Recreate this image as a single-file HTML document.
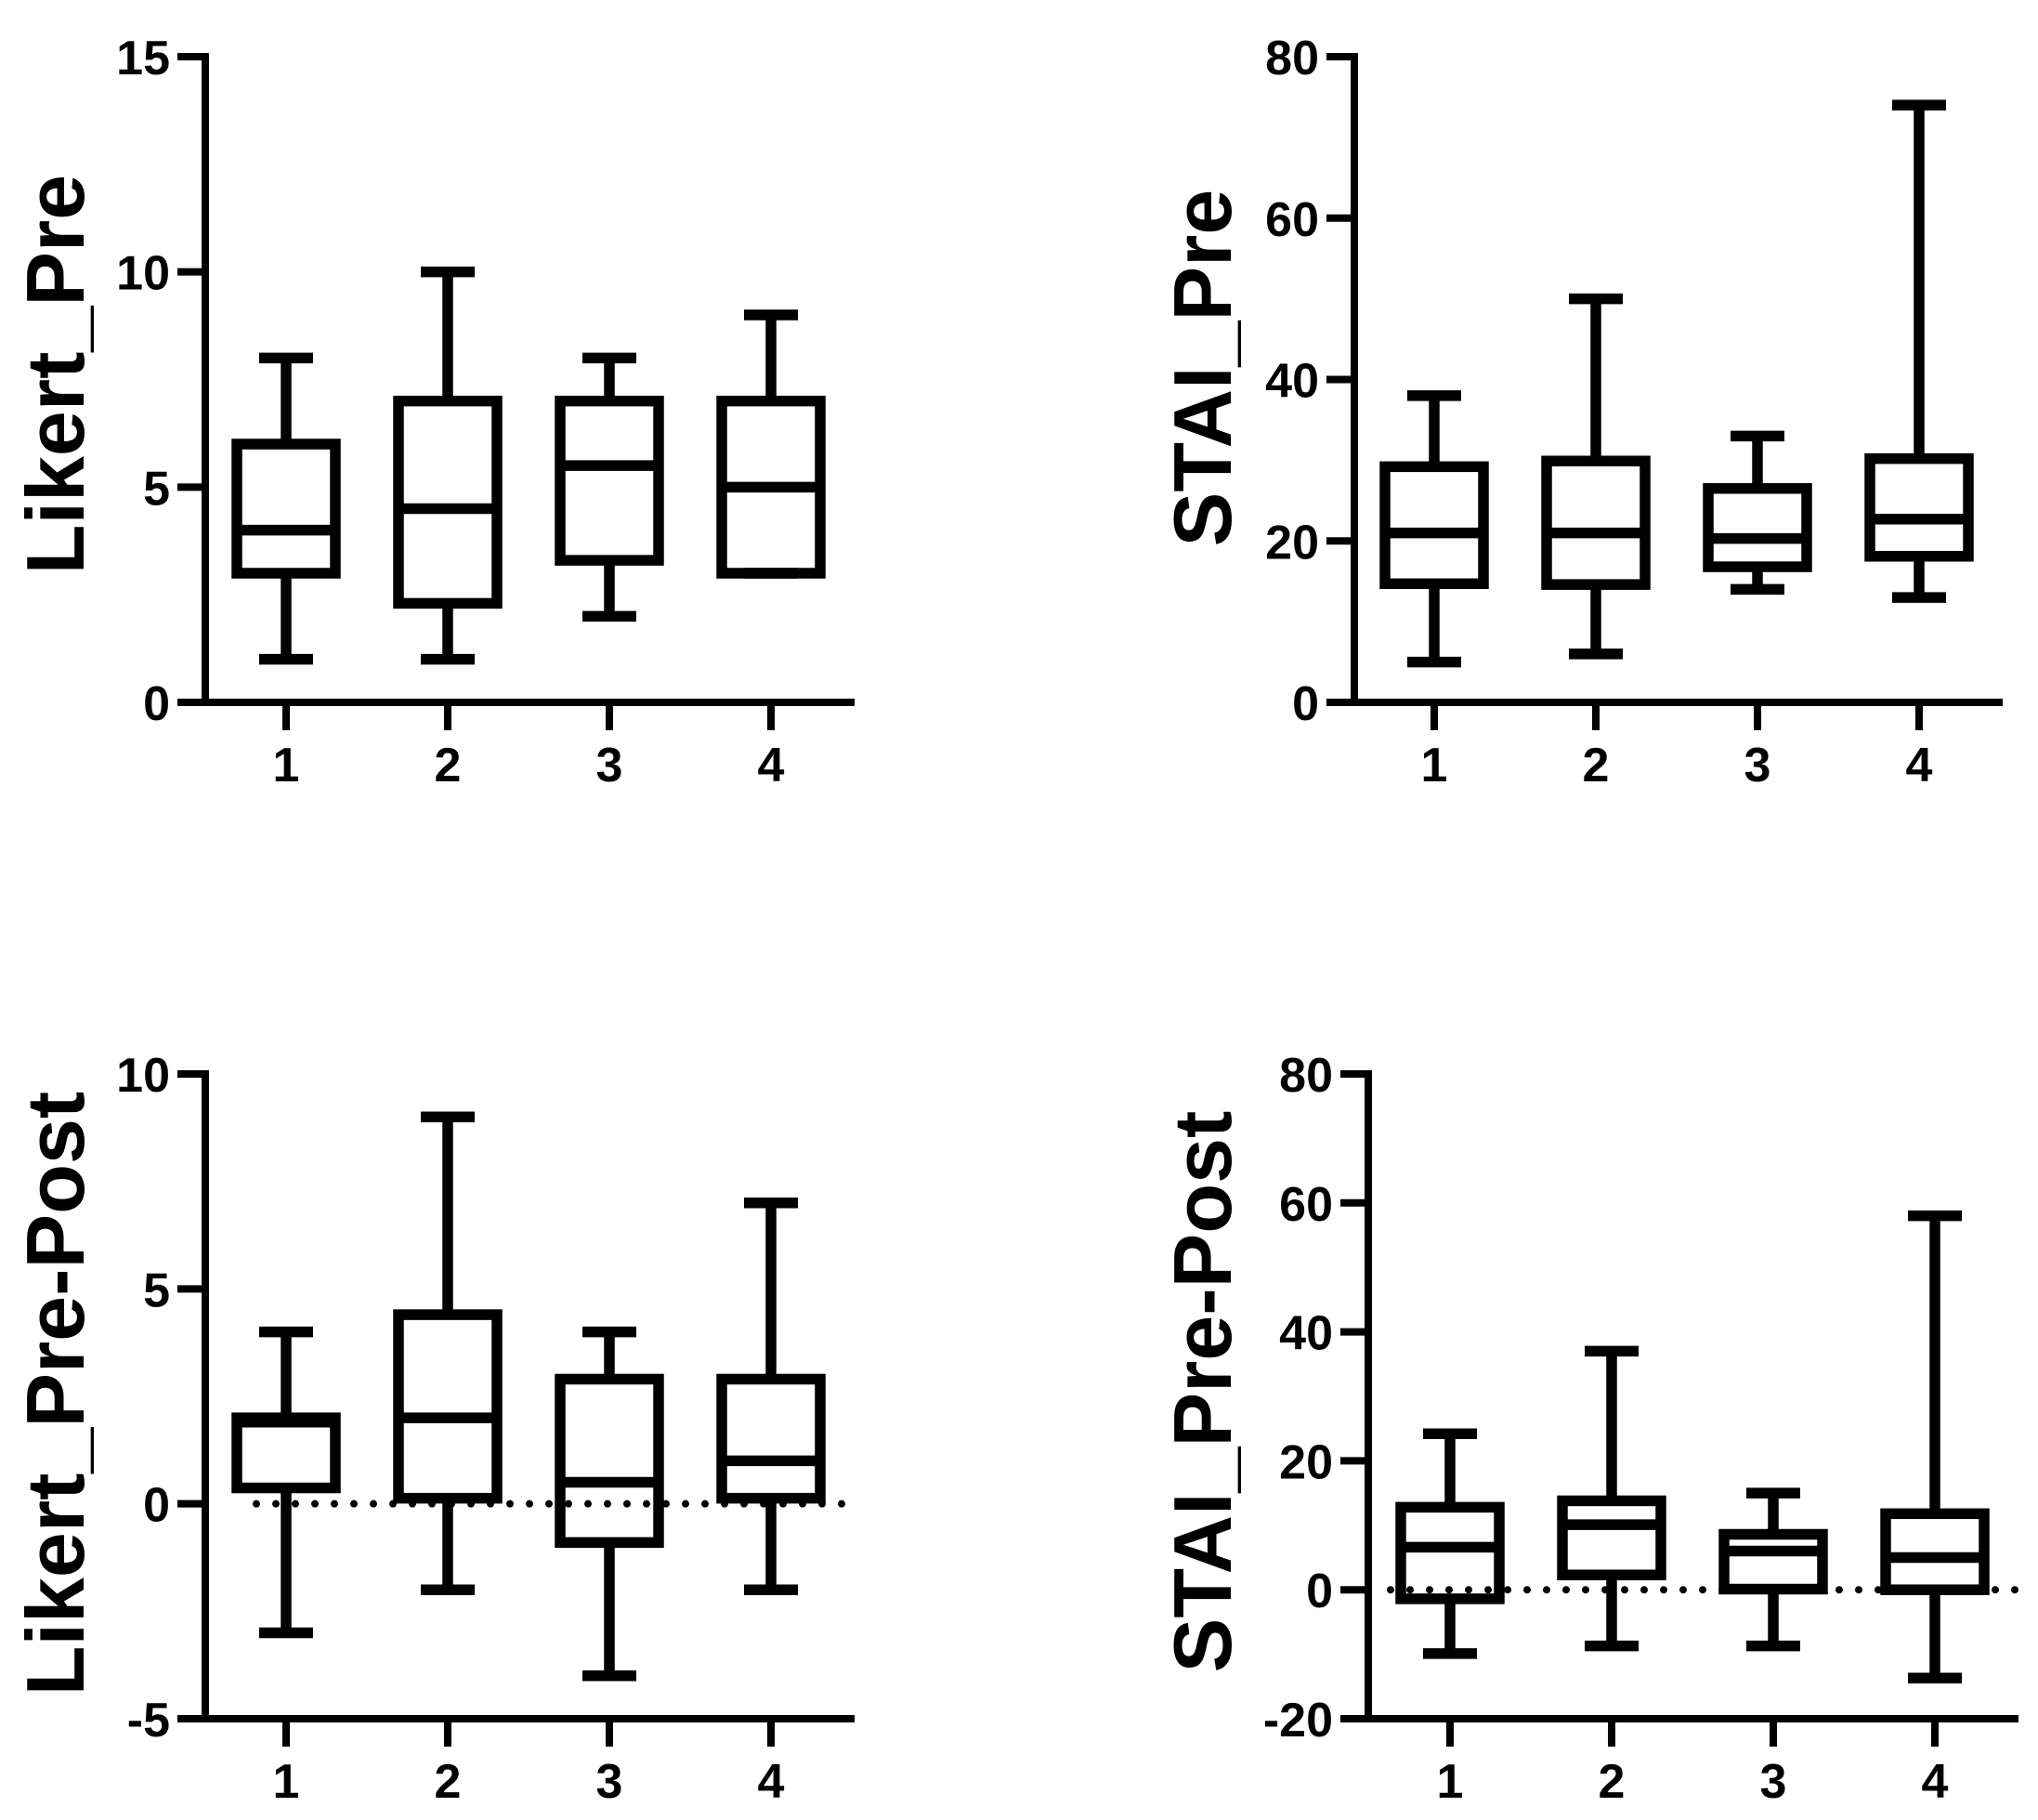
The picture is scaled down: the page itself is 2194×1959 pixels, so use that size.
<!DOCTYPE html>
<html><head><meta charset="utf-8"><style>
html,body{margin:0;padding:0;background:#fff;}
svg{display:block;}
text{font-family:"Liberation Sans",Arial,sans-serif;font-weight:bold;fill:#000;}
</style></head><body>
<svg id="chart" width="2194" height="1959" viewBox="0 0 2194 1959" xmlns="http://www.w3.org/2000/svg"></svg>
<script>
const categories = ["1","2","3","4"];
// panel 1: Likert_Pre
const p1Max = [8, 10, 8, 9];
const p1Q3 = [6, 7, 7, 7];
const p1Med = [4, 4.5, 5.5, 5];
const p1Q1 = [3, 2.3, 3.3, 3];
const p1Min = [1, 1, 2, 3];
const p1Ticks = [0, 5, 10, 15];
// panel 2: STAI_Pre
const p2Max = [38, 50, 33, 74];
const p2Q3 = [29.2, 29.9, 26.5, 30.2];
const p2Med = [21, 21, 20.3, 22.7];
const p2Q1 = [14.7, 14.6, 16.8, 18.1];
const p2Min = [5, 6, 14, 13];
const p2Ticks = [0, 20, 40, 60, 80];
// panel 3: Likert_Pre-Post
const p3Max = [4, 9, 4, 7];
const p3Q3 = [2, 4.4, 2.9, 2.9];
const p3Med = [1.9, 2, 0.5, 1];
const p3Q1 = [0.37, 0.13, -0.9, 0.13];
const p3Min = [-3, -2, -4, -2];
const p3Ticks = [-5, 0, 5, 10];
// panel 4: STAI_Pre-Post
const p4Max = [24.2, 37, 15, 58];
const p4Q3 = [12.8, 13.8, 8.6, 11.8];
const p4Med = [6.6, 10.1, 6.0, 5.0];
const p4Q1 = [-1.4, 2.3, 0.1, 0];
const p4Min = [-9.9, -8.7, -8.7, -13.7];
const p4Ticks = [-20, 0, 20, 40, 60, 80];

const NS = "http://www.w3.org/2000/svg";
const svg = document.getElementById("chart");
function mk(tag, attrs, parent){
  const e = document.createElementNS(NS, tag);
  for (const k in attrs) e.setAttribute(k, attrs[k]);
  (parent||svg).appendChild(e);
  return e;
}
function panel(cfg){
  const g = mk("g", {});
  
  
  const vmin = cfg.ticks[0], vmax = cfg.ticks[cfg.ticks.length-1];
  const y = v => cfg.yBot - (v - vmin) / (vmax - vmin) * (cfg.yBot - cfg.yTop);
  const x = i => cfg.axisX + cfg.off + i * 174;
  const xEnd = x(categories.length-1) + 90;
  // zero dotted line
  if (cfg.zeroLine){
    const zl = mk("line", {x1:cfg.dotFrom, x2:cfg.dotTo, y1:y(0), y2:y(0), stroke:"#000","stroke-width":8,"stroke-dasharray":"0 21","stroke-linecap":"round"}, g);
    
    
  }
  // y axis
  const ya = mk("line", {x1:cfg.axisX, x2:cfg.axisX, y1:cfg.yTop-4, y2:cfg.yBot+4, stroke:"#000","stroke-width":8}, g);
  
  
  const xa = mk("line", {x1:cfg.axisX-30, x2:xEnd, y1:cfg.yBot, y2:cfg.yBot, stroke:"#000","stroke-width":8}, g);
  
  
  cfg.ticks.forEach(t => {
    const tl = mk("line", {x1:cfg.axisX-30, x2:cfg.axisX, y1:y(t), y2:y(t), stroke:"#000","stroke-width":8}, g);
    
    
    const tx = mk("text", {x:cfg.axisX-38, y:y(t)+19, "font-size":52, "text-anchor":"end"}, g);
    tx.textContent = String(t);
    
    
  });
  categories.forEach((c, i) => {
    const tl = mk("line", {x1:x(i), x2:x(i), y1:cfg.yBot, y2:cfg.yBot+30, stroke:"#000","stroke-width":8}, g);
    
    
    const tx = mk("text", {x:x(i), y:cfg.yBot+85, "font-size":52, "text-anchor":"middle"}, g);
    tx.textContent = c;
    
    
    const bg = mk("g", {stroke:"#000","stroke-width":11.5, fill:"none"}, g);
    
    
    const hw = 53, cw = 29;
    const wu = mk("line", {x1:x(i), x2:x(i), y1:y(cfg.q3[i]), y2:y(cfg.max[i])}, bg);
    
    
    const cu = mk("line", {x1:x(i)-cw, x2:x(i)+cw, y1:y(cfg.max[i]), y2:y(cfg.max[i])}, bg);
    
    
    const wl = mk("line", {x1:x(i), x2:x(i), y1:y(cfg.q1[i]), y2:y(cfg.min[i])}, bg);
    
    
    const cl = mk("line", {x1:x(i)-cw, x2:x(i)+cw, y1:y(cfg.min[i]), y2:y(cfg.min[i])}, bg);
    
    
    const r = mk("rect", {x:x(i)-hw, y:y(cfg.q3[i]), width:2*hw, height:y(cfg.q1[i])-y(cfg.q3[i]), fill:"none"}, bg);
    
    
    const m = mk("line", {x1:x(i)-hw, x2:x(i)+hw, y1:y(cfg.med[i]), y2:y(cfg.med[i])}, bg);
    
    
  });
  const tt = mk("text", {x:0, y:0, "font-size":88, "text-anchor":"middle", transform:"translate("+(cfg.titleX)+","+(cfg.titleY)+") rotate(-90)"}, g);
  tt.textContent = cfg.title;
  
  
}
panel({name:"likert-pre-panel", title:"Likert_Pre", axisX:221, off:87, yTop:61, yBot:756, ticks:p1Ticks,
  max:p1Max,q3:p1Q3,med:p1Med,q1:p1Q1,min:p1Min, titleX:90, titleY:403});
panel({name:"stai-pre-panel", title:"STAI_Pre", axisX:1458, off:86, yTop:61, yBot:756, ticks:p2Ticks,
  max:p2Max,q3:p2Q3,med:p2Med,q1:p2Q1,min:p2Min, titleX:1325, titleY:396});
panel({name:"likert-pre-post-panel", title:"Likert_Pre-Post", axisX:221, off:87, yTop:1156, yBot:1850, ticks:p3Ticks,
  max:p3Max,q3:p3Q3,med:p3Med,q1:p3Q1,min:p3Min, titleX:90, titleY:1500, zeroLine:true, dotFrom:276, dotTo:916});
panel({name:"stai-pre-post-panel", title:"STAI_Pre-Post", axisX:1473, off:88, yTop:1156, yBot:1850, ticks:p4Ticks,
  max:p4Max,q3:p4Q3,med:p4Med,q1:p4Q1,min:p4Min, titleX:1325, titleY:1498, zeroLine:true, dotFrom:1497, dotTo:2170});
</script>
</body></html>
